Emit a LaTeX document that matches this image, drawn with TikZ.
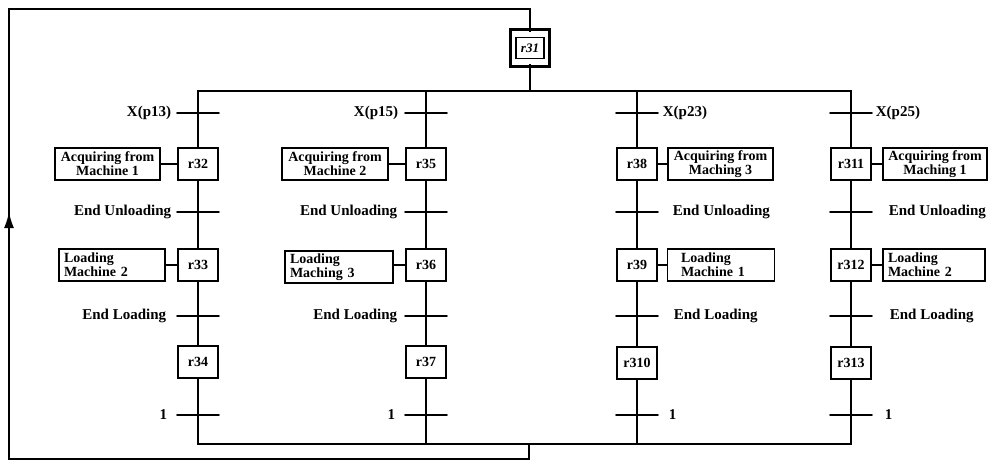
\documentclass[tikz,border=0pt]{standalone}
\usepackage{fontspec}
\setmainfont{Liberation Serif}
\usetikzlibrary{arrows.meta}
\begin{document}
\begin{tikzpicture}[x=1pt,y=-1pt,
  line width=1.7pt, line cap=rect,
  stepbox/.style={draw, fill=white, minimum width=40pt, minimum height=32pt, inner sep=1pt, font=\fontsize{14}{14}\selectfont\bfseries},
  initbox/.style={draw, line width=1.4pt, minimum width=28pt, minimum height=21pt, inner sep=1pt, font=\fontsize{13}{13}\selectfont\bfseries\itshape},
  actbox/.style={draw, minimum height=32pt, inner sep=2pt, font=\fontsize{14}{12}\selectfont\bfseries},
  acq/.style={actbox, align=center},
  lod/.style={actbox, align=left},
  tlab/.style={inner sep=0pt, font=\fontsize{15}{15}\selectfont\bfseries},
  tick/.style={line width=1.8pt, line cap=round},
]
\useasboundingbox (0,0) rectangle (989,463);

% initial step and loop
\node[initbox] (r31) at (530,48) {r31};
\draw[line width=2.8pt, line cap=butt] ([shift={(-5pt,-7pt)}]r31.south west) rectangle ([shift={(5pt,7pt)}]r31.north east);
\coordinate (r31top) at (530,31);
\coordinate (r31bot) at (530,65);
\coordinate (topm) at (530,91);
\coordinate (botm) at (529,444);
\coordinate (lb) at (529,459);
\coordinate (lbl) at (9,459);
\coordinate (ltl) at (9,9);
\coordinate (ltr) at (530,9);
\coordinate (arr) at (9,212);
\draw (botm) -- (lb) -- (lbl) -- (ltl) -- (ltr) -- (r31top);
\draw[line cap=butt, -{Latex[length=16pt,width=10pt]}] (lbl) -- (arr);
\draw (r31bot) -- (topm);

% lane coordinates
\coordinate (top1) at (198,91);
\coordinate (top2) at (426,91);
\coordinate (top3) at (637,91);
\coordinate (top4) at (851,91);
\coordinate (bot1) at (198,444);
\coordinate (bot2) at (426,444);
\coordinate (bot3) at (637,444);
\coordinate (bot4) at (851,444);

% steps
\node[stepbox] (r32) at (198,164) {r32};
\node[stepbox] (r33) at (198,265) {r33};
\node[stepbox] (r34) at (198,362) {r34};
\node[stepbox] (r35) at (426,164) {r35};
\node[stepbox] (r36) at (426,265) {r36};
\node[stepbox] (r37) at (426,362) {r37};
\node[stepbox] (r38) at (637,164) {r38};
\node[stepbox] (r39) at (637,265) {r39};
\node[stepbox] (r310) at (637,363) {r310};
\node[stepbox] (r311) at (851,164) {r311};
\node[stepbox] (r312) at (851,265) {r312};
\node[stepbox] (r313) at (851,363) {r313};

% vertical lines and bars
\draw (r32) -- (top1) -- (top4) -- (r311);
\draw (r34) -- (bot1) -- (bot4) -- (r313);
\draw (top2) -- (r35);
\draw (top3) -- (r38);
\draw (r37) -- (bot2);
\draw (r310) -- (bot3);
\draw (r32) -- (r33) -- (r34);
\draw (r35) -- (r36) -- (r37);
\draw (r38) -- (r39) -- (r310);
\draw (r311) -- (r312) -- (r313);

% transitions
\foreach \x/\n in {198/1,426/2,637/3,851/4}{
  \coordinate (t\n a) at (\x,113);
  \coordinate (t\n b) at (\x,212);
  \coordinate (t\n c) at (\x,316);
  \coordinate (t\n d) at (\x,415);
}
\foreach \n in {1,2,3,4}{
  \foreach \k in {a,b,c,d}{
    \draw[tick] ([xshift=-21pt]t\n\k) -- ([xshift=21pt]t\n\k);
  }
}

% transition labels, lanes 1 and 2 (left)
\node[tlab, anchor=east] (l1a) at ([xshift=-26pt]t1a) {X(p13)};
\node[tlab, anchor=east] (l1b) at ([xshift=-26pt]t1b) {End Unloading};
\node[tlab, anchor=east] (l1c) at ([xshift=-31pt]t1c) {End Loading};
\node[tlab, anchor=east] (l1d) at ([xshift=-30pt]t1d) {1};
\node[tlab, anchor=east] (l2a) at ([xshift=-27pt]t2a) {X(p15)};
\node[tlab, anchor=east] (l2b) at ([xshift=-28pt]t2b) {End Unloading};
\node[tlab, anchor=east] (l2c) at ([xshift=-28pt]t2c) {End Loading};
\node[tlab, anchor=east] (l2d) at ([xshift=-30pt]t2d) {1};
% lanes 3 and 4 (right)
\node[tlab, anchor=west] (l3a) at ([xshift=25pt]t3a) {X(p23)};
\node[tlab, anchor=west] (l3b) at ([xshift=35pt]t3b) {End Unloading};
\node[tlab, anchor=west] (l3c) at ([xshift=36pt]t3c) {End Loading};
\node[tlab, anchor=west] (l3d) at ([xshift=31pt]t3d) {1};
\node[tlab, anchor=west] (l4a) at ([xshift=24pt]t4a) {X(p25)};
\node[tlab, anchor=west] (l4b) at ([xshift=37pt]t4b) {End Unloading};
\node[tlab, anchor=west] (l4c) at ([xshift=38pt]t4c) {End Loading};
\node[tlab, anchor=west] (l4d) at ([xshift=33pt]t4d) {1};

% action boxes
\node[acq, minimum width=105pt] (a32) at (107.5,164) {Acquiring from\\Machine 1};
\node[lod, minimum width=106pt, text width=96pt] (a33) at (112,265) {Loading\\Machine 2};
\node[acq, minimum width=106pt] (a35) at (335,164) {Acquiring from\\Machine 2};
\node[lod, minimum width=108pt, text width=98pt] (a36) at (339,267) {Loading\\Maching 3};
\node[acq, minimum width=105pt] (a38) at (720.5,164) {Acquiring from\\Maching 3};
\node[lod, minimum width=107pt, text width=80pt] (a39) at (721,265) {Loading\\Machine 1};
\node[acq, minimum width=104pt] (a311) at (935,164) {Acquiring from\\Maching 1};
\node[lod, minimum width=102pt, text width=92pt] (a312) at (934,265) {Loading\\Machine 2};

\draw (a32) -- (r32);
\draw (a33) -- (r33);
\draw (a35) -- (r35);
\draw (a36.east |- r36) -- (r36);
\draw (r38) -- (a38);
\draw (r39) -- (a39);
\draw (r311) -- (a311);
\draw (r312) -- (a312);
\end{tikzpicture}
\end{document}
